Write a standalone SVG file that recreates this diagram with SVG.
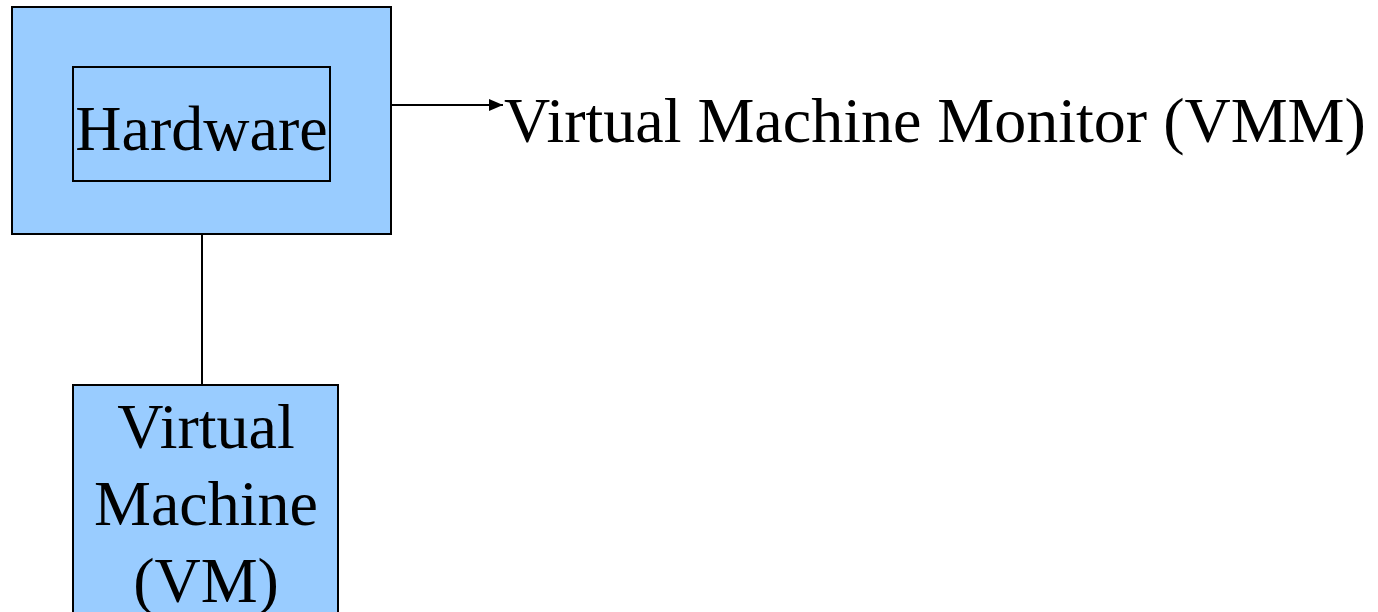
<svg xmlns="http://www.w3.org/2000/svg" width="1378" height="612" viewBox="0 0 1378 612">
  <style>
    .box { fill: #99ccff; stroke: #000000; stroke-width: 2; }
    .inner { fill: none; stroke: #000000; stroke-width: 2; }
    .label { font-family: "Liberation Serif", "Times New Roman", serif; font-size: 64px; fill: #000000; }
    .mid { text-anchor: middle; }
    .link { stroke: #000000; stroke-width: 2; fill: none; }
  </style>
  <defs>
    <marker id="arrowhead" markerWidth="14" markerHeight="12" refX="14" refY="6" orient="auto" markerUnits="userSpaceOnUse">
      <path d="M0,0 L14,6 L0,12 Z" fill="#000000"/>
    </marker>
  </defs>
  <rect width="1378" height="612" fill="#ffffff"/>

  <g id="node-vmm-host">
    <rect class="box" x="12" y="7" width="379" height="227"/>
  </g>
  <g id="node-hardware">
    <rect class="inner" x="73" y="67" width="257" height="114"/>
    <text class="label mid" x="201.5" y="150">Hardware</text>
  </g>
  <g id="node-vm">
    <rect class="box" x="73" y="385" width="265" height="228"/>
    <text class="label mid" x="206" y="448">Virtual</text>
    <text class="label mid" x="206" y="525">Machine</text>
    <text class="label mid" x="206" y="602">(VM)</text>
  </g>
  <g id="node-vmm-label">
    <text class="label" x="504" y="142" font-size="64.3">Virtual Machine Monitor (VMM)</text>
  </g>

  <g id="connectors">
    <line class="link" x1="202" y1="234" x2="202" y2="385"/>
    <line class="link" x1="391" y1="105" x2="503" y2="105" marker-end="url(#arrowhead)"/>
  </g>
</svg>
